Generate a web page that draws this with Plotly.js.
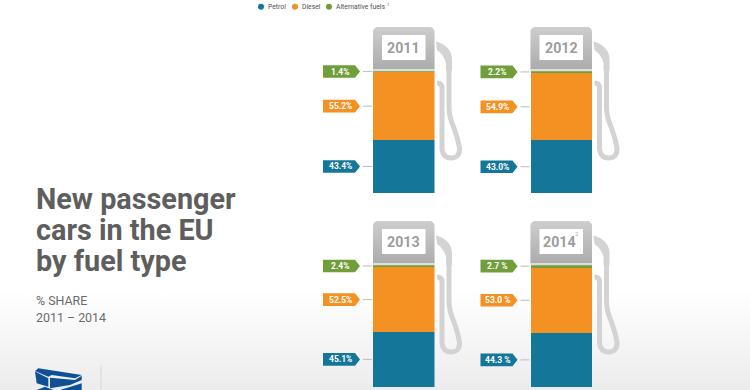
<!DOCTYPE html>
<html><head><meta charset="utf-8">
<script src="https://cdn.plot.ly/plotly-3.0.1.min.js"></script>
<style>html,body{margin:0;padding:0;width:750px;height:390px;overflow:hidden;background:linear-gradient(to bottom,#ffffff 0,#ffffff 290px,#ececec 390px)}#c{width:750px;height:390px}</style>
</head><body><div id="c"></div>
<script>
const years=['2011','2012','2013','2014'];
const petrol=[43.4,43.0,45.1,44.3];
const diesel=[55.2,54.9,52.5,53.0];
const alternative=[1.4,2.2,2.4,2.7];
const labelSuffix=['%','%','%',' %'];
const legendLabels=['Petrol','Diesel','Alternative fuels'];
const COL={petrol:'#14779a',diesel:'#f39123',alt:'#6f9e3a'};
const titleLines=['New passenger','cars in the EU','by fuel type'];
const subLines=['% SHARE','2011 – 2014'];
const panels=[{l:373,r:434.5,top:27,seam:70.7,bot:193},{l:530.5,r:592,top:27,seam:70.7,bot:193},
 {l:373,r:434.5,top:221,seam:264.5,bot:387},{l:530.5,r:592,top:221,seam:264.5,bot:387}];
const F='Roboto, sans-serif';
const traces=[],shapes=[],ann=[],layout={};
const O={xref:'x5',yref:'y5'};
function txt(x,y,text,size,color,bold,anchor){ann.push({xref:'x5',yref:'y5',x:x,y:y,text:bold?'<b>'+text+'</b>':text,showarrow:false,xanchor:anchor||'left',yanchor:'middle',font:{family:F,size:size,color:color},borderpad:0});}
function lerp(a,b,t){return Math.round(a+(b-a)*t);}
panels.forEach((p,i)=>{
 const n=i+1, xa='x'+(n>1?n:''), ya='y'+(n>1?n:'');
 // the y axis reaches 10px above the stack so that the top label is not clipped
 const pad=10, topVal=100+pad*100/(p.bot-p.seam);
 layout['xaxis'+(n>1?n:'')]={domain:[p.l/750,p.r/750],range:[-.5,.5],visible:false,fixedrange:true,anchor:ya};
 layout['yaxis'+(n>1?n:'')]={domain:[1-p.bot/390,1-(p.seam-pad)/390],range:[0,topVal],visible:false,fixedrange:true,anchor:xa};
 [['Petrol',petrol,COL.petrol],['Diesel',diesel,COL.diesel],['Alternative fuels',alternative,COL.alt]].forEach(s=>{
  traces.push({type:'bar',x:[0],y:[s[1][i]],name:s[0],width:[1],marker:{color:s[2],line:{width:0}},xaxis:xa,yaxis:ya,showlegend:false,hoverinfo:'name+y'});
 });
 let base=0;
 [[petrol,COL.petrol],[diesel,COL.diesel],[alternative,COL.alt]].forEach(s=>{
  const v=s[0][i], mid=base+v/2; base+=v;
  const tl=p.l-50;
  shapes.push({type:'path',xsizemode:'pixel',ysizemode:'pixel',xref:'x5',yref:ya,xanchor:tl,yanchor:mid,path:'M0,-6.3 L32,-6.3 L37,0 L32,6.3 L0,6.3 Z',fillcolor:s[1],line:{width:0},layer:'above'});
  shapes.push({type:'line',xref:'x5',yref:ya,x0:p.l-10,x1:p.l-1,y0:mid,y1:mid,line:{color:'#bdbdbd',width:1},layer:'above'});
  ann.push({xref:'x5',yref:ya,x:tl+17,y:mid,text:'<b>'+v.toFixed(1)+labelSuffix[i]+'</b>',showarrow:false,xanchor:'center',yanchor:'middle',font:{family:F,size:8.5,color:'#ffffff'},borderpad:0});
 });
 const h=Math.round(p.seam)-p.top, r=5;
 for(let k=0;k<h;k++){
  const t=k/(h-1), d=k<r?r-Math.sqrt(r*r-(r-k-.5)*(r-k-.5)):0;
  const g=t<.96?lerp(205,172,t/.96):222;
  shapes.push({type:'rect',...O,x0:p.l+d,x1:p.r-d,y0:p.top+k,y1:p.top+k+1.2,fillcolor:`rgb(${g},${g},${g})`,line:{width:0},layer:'below'});
 }
 const bt=p.top+8, bb=p.top+33, bl=p.l+9, br=p.l+52.5;
 shapes.push({type:'rect',...O,x0:bl,x1:br,y0:bt,y1:bb,fillcolor:'#ffffff',line:{width:0},layer:'below'});
 txt(i===3?p.l+29:(bl+br)/2,(bt+bb)/2+.5,years[i],14.2,'#9d9d9d',true,'center');
 if(i===3) txt(p.l+46,bt+4,'2',6,'#a8a8a8',false,'center');
 const X=a=>p.l+a, Y=b=>p.top+b;
 shapes.push({type:'path',...O,path:`M${X(63)},${Y(14.5)} Q${X(79)},${Y(19)} ${X(79)},${Y(33)} L${X(79)},${Y(44)} L${X(73)},${Y(44)} L${X(73)},${Y(36)} Q${X(71)},${Y(28)} ${X(64)},${Y(23)} Z`,fillcolor:'#d3d3d3',line:{width:0},layer:'below'});
 shapes.push({type:'path',...O,path:`M${X(64)},${Y(56)} Q${X(69)},${Y(56)} ${X(69)},${Y(61)} L${X(69)},${Y(122)} Q${X(70)},${Y(131)} ${X(78)},${Y(131)} Q${X(87)},${Y(131)} ${X(86.5)},${Y(121)} Q${X(85)},${Y(112)} ${X(81)},${Y(101)} Q${X(76)},${Y(90)} ${X(76)},${Y(80)} L${X(76)},${Y(36)}`,line:{color:'#d3d3d3',width:5},layer:'below'});
});
layout.xaxis5={domain:[0,1],range:[0,750],visible:false,fixedrange:true,anchor:'y5'};
layout.yaxis5={domain:[0,1],range:[390,0],visible:false,fixedrange:true,anchor:'x5'};
traces.push({type:'scatter',x:[0],y:[0],mode:'none',xaxis:'x5',yaxis:'y5',showlegend:false,hoverinfo:'skip'});
[[261,COL.petrol,267],[295,COL.diesel,301],[329,COL.alt,335]].forEach((l,i)=>{
 shapes.push({type:'circle',...O,x0:l[0]-3,x1:l[0]+3,y0:3.7,y1:9.7,fillcolor:l[1],line:{width:0}});
 txt(l[2],6.7,legendLabels[i],6.8,'#505050',false);
});
txt(386,4.5,'1',4,'#505050',false);
titleLines.forEach((s,i)=>txt(35,199+i*31,s,28.8,'#5e5e5e',true));
subLines.forEach((s,i)=>txt(35,300+i*17,s,12.4,'#6b6b6b',false));
['M38.3,368.3 L81.7,375 L75,378.3 L51.7,375 L48.3,376.7 L35,371 Z','M35,371.5 L48.3,378.3 L48.3,386.7 L36.7,383.3 Z','M50,377.7 L75,380 L81.7,375.7 L81.7,380 L70,385 L50,388.3 Z','M36.7,390 L45,386.7 L53.3,390 Z','M60,390 L81.7,383.3 L81.7,390 Z'].forEach(d=>
 shapes.push({type:'path',...O,path:d,fillcolor:'#0e4f96',line:{width:0}}));
shapes.push({type:'line',...O,x0:101,x1:101,y0:365,y1:390,line:{color:'#d6d6d6',width:1}});
Object.assign(layout,{width:750,height:390,margin:{l:0,r:0,t:0,b:0},barmode:'stack',bargap:0,paper_bgcolor:'rgba(0,0,0,0)',plot_bgcolor:'rgba(0,0,0,0)',showlegend:false,shapes:shapes,annotations:ann,font:{family:F}});
Plotly.newPlot('c',traces,layout,{displayModeBar:false,staticPlot:true});
</script></body></html>
